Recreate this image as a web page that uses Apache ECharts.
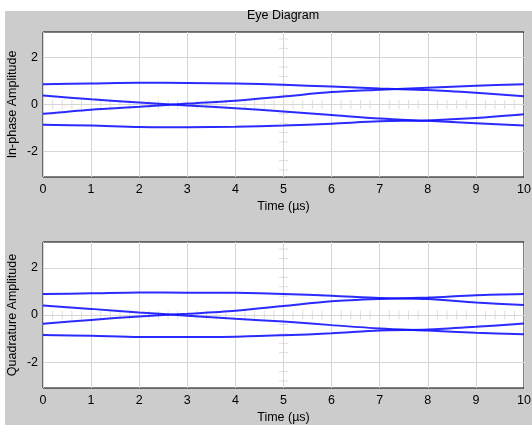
<!DOCTYPE html>
<html>
<head>
<meta charset="utf-8">
<script src="https://cdn.jsdelivr.net/npm/echarts@6/dist/echarts.min.js"></script>
<style>
  html, body {margin: 0; padding: 0; background: #fff;}
  #eye {width: 532px; height: 425px;}
</style>
</head>
<body>
<div id="eye"></div>
<script>
// time axis (µs) of the eye traces
const timeUs = [0, 1, 2, 3, 4, 5, 6, 7, 8, 9, 10];

// in-phase traces
const iUpperOuter = [0.87, 0.90, 0.93, 0.92, 0.90, 0.84, 0.77, 0.68, 0.62, 0.50, 0.35];
const iRisingInner = [-0.40, -0.22, -0.10, 0.04, 0.16, 0.34, 0.53, 0.63, 0.72, 0.80, 0.87];
const iFallingInner = [0.38, 0.22, 0.09, -0.04, -0.16, -0.30, -0.45, -0.60, -0.70, -0.80, -0.90];
const iLowerOuter = [-0.87, -0.90, -0.96, -0.97, -0.95, -0.90, -0.82, -0.72, -0.68, -0.58, -0.42];

// quadrature traces
const qUpperOuter = [0.89, 0.92, 0.96, 0.95, 0.94, 0.89, 0.82, 0.72, 0.68, 0.53, 0.42];
const qRisingInner = [-0.37, -0.21, -0.06, 0.05, 0.18, 0.38, 0.58, 0.68, 0.74, 0.84, 0.89];
const qFallingInner = [0.40, 0.26, 0.11, -0.03, -0.16, -0.28, -0.43, -0.57, -0.66, -0.75, -0.82];
const qLowerOuter = [-0.85, -0.88, -0.93, -0.93, -0.92, -0.86, -0.78, -0.66, -0.62, -0.50, -0.36];

// axis ticks / graticule
const yTickValues = [-2, 0, 2];
const gratTimes = [0.2, 0.4, 0.6, 0.8, 1.2, 1.4, 1.6, 1.8, 2.2, 2.4, 2.6, 2.8, 3.2, 3.4, 3.6, 3.8,
    4.2, 4.4, 4.6, 4.8, 5.2, 5.4, 5.6, 5.8, 6.2, 6.4, 6.6, 6.8, 7.2, 7.4, 7.6, 7.8,
    8.2, 8.4, 8.6, 8.8, 9.2, 9.4, 9.6, 9.8];
const gratAmps = [-2.8, -2.4, -1.6, -1.2, -0.8, -0.4, 0.4, 0.8, 1.2, 1.6, 2.4, 2.8];
const gratCenterT = 5;

const FONT = 'Liberation Sans';
const gridCol = '#d6d6d6';
const traceCol = '#1414ff';

const pairs = (ys) => timeUs.map((t, i) => [t, ys[i]]);

function xAxisOf(idx) {
    return {
        type: 'value', gridIndex: idx, min: 0, max: 10, interval: 1,
        axisLine: {show: false}, axisTick: {show: false},
        axisLabel: {color: '#000', fontFamily: FONT, fontSize: 12.5, margin: 6},
        splitLine: {show: true, lineStyle: {color: gridCol, width: 1}},
        name: 'Time (µs)', nameLocation: 'middle', nameGap: 23, nameMoveOverlap: false,
        nameTextStyle: {color: '#000', fontFamily: FONT, fontSize: 12.5}
    };
}
function yAxisOf(idx, name) {
    return {
        type: 'value', gridIndex: idx, min: -3.1, max: 3.1,
        axisLine: {show: false}, axisTick: {show: false},
        axisLabel: {color: '#000', fontFamily: FONT, fontSize: 12.5, margin: 5, customValues: yTickValues},
        splitLine: {show: false},
        name: name, nameLocation: 'middle', nameGap: 24, nameMoveOverlap: false,
        nameTextStyle: {color: '#000', fontFamily: FONT, fontSize: 12.5}
    };
}
function trace(idx, ys) {
    return {
        type: 'line', xAxisIndex: idx, yAxisIndex: idx, data: pairs(ys),
        smooth: 0.3, showSymbol: false, silent: true, z: 5,
        lineStyle: {color: traceCol, width: 2, opacity: 0.9}
    };
}
function graticule(idx) {
    return [
        {
            type: 'scatter', xAxisIndex: idx, yAxisIndex: idx, silent: true, z: 2,
            symbol: 'rect', symbolSize: [1, 9],
            itemStyle: {color: gridCol},
            data: gratTimes.map(t => [t, 0]),
            markLine: {
                silent: true, symbol: 'none', label: {show: false},
                lineStyle: {color: gridCol, width: 1, type: 'solid'},
                data: yTickValues.map(v => ({yAxis: v}))
            }
        },
        {
            type: 'scatter', xAxisIndex: idx, yAxisIndex: idx, silent: true, z: 2,
            symbol: 'rect', symbolSize: [9, 1],
            itemStyle: {color: gridCol},
            data: gratAmps.map(v => [gratCenterT, v])
        }
    ];
}

const option = {
    backgroundColor: '#cccccc',
    animation: false,
    title: {
        text: 'Eye Diagram', left: 283, top: 9, padding: 0, textAlign: 'center',
        textStyle: {color: '#000', fontFamily: FONT, fontSize: 12.5, fontWeight: 'normal'}
    },
    graphic: [
        {type: 'rect', left: 0, top: 0, shape: {width: 532, height: 11}, style: {fill: '#fff'}, silent: true},
        {type: 'rect', left: 0, top: 0, shape: {width: 5, height: 425}, style: {fill: '#fff'}, silent: true}
    ],
    grid: [
        {left: 43, top: 32, width: 481, height: 145, outerBoundsMode: 'none', containLabel: false,
            show: true, backgroundColor: '#fff', borderColor: '#000', borderWidth: 1},
        {left: 43, top: 242, width: 481, height: 146, outerBoundsMode: 'none', containLabel: false,
            show: true, backgroundColor: '#fff', borderColor: '#000', borderWidth: 1}
    ],
    xAxis: [xAxisOf(0), xAxisOf(1)],
    yAxis: [yAxisOf(0, 'In-phase Amplitude'), yAxisOf(1, 'Quadrature Amplitude')],
    series: [
        ...graticule(0),
        trace(0, iUpperOuter), trace(0, iRisingInner), trace(0, iFallingInner), trace(0, iLowerOuter),
        ...graticule(1),
        trace(1, qUpperOuter), trace(1, qRisingInner), trace(1, qFallingInner), trace(1, qLowerOuter)
    ]
};

const eyeChart = echarts.init(document.getElementById('eye'));
eyeChart.setOption(option);
</script>
</body>
</html>
